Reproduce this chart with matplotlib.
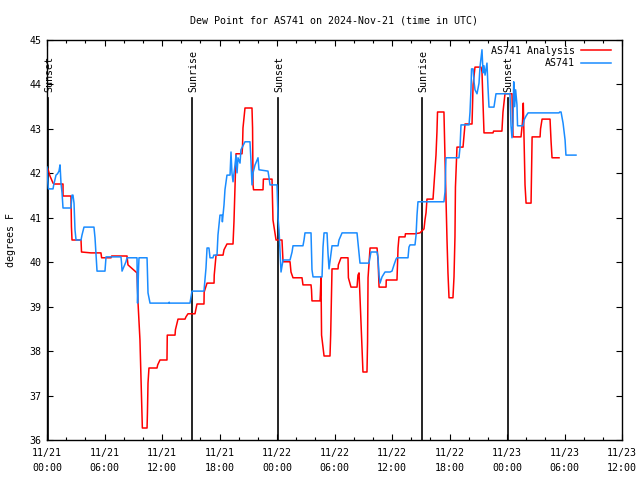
import matplotlib
matplotlib.use("Agg")
import matplotlib.pyplot as plt
from matplotlib.ticker import MultipleLocator

# hours since 2024-11-21 00:00 UTC
ana_t = [0.10, 0.31, 0.63, 0.73, 1.67, 1.67, 2.50, 2.55, 2.61, 3.55, 3.60, 4.59, 5.63, 5.70,
         6.68, 6.75, 8.35, 8.45, 9.39, 9.50, 9.70, 9.91, 9.95, 10.44, 10.48, 10.54, 10.64,
         11.48, 11.55, 11.79, 12.52, 12.55, 13.36, 13.40, 13.67, 14.40, 14.50, 14.71, 15.44,
         15.65, 16.38, 16.40, 16.70, 17.43, 17.45, 17.64, 18.37, 18.47, 18.78, 19.41, 19.51,
         19.72, 20.35, 20.40, 20.45, 20.66, 21.39, 21.45, 21.50, 21.55, 22.54, 22.58, 23.48,
         23.52, 23.58, 23.90, 24.52, 24.63, 25.36, 25.46, 25.67, 26.61, 26.71, 27.55, 27.60,
         27.65, 28.49, 28.52, 28.59, 28.65, 28.91, 29.53, 29.60, 29.74, 30.37, 30.40, 30.68,
         31.41, 31.45, 31.72, 32.35, 32.45, 32.56, 32.87, 32.97, 33.39, 33.45, 33.50, 33.71,
         34.44, 34.54, 34.65, 35.38, 35.40, 36.52, 36.63, 36.73, 37.36, 37.40, 38.40, 38.92,
         39.34, 39.44, 39.55, 39.65, 40.28, 40.38, 40.59, 40.69, 40.75, 41.42, 41.53, 41.74,
         41.84, 41.95, 42.36, 42.47, 42.57, 42.62, 42.78, 43.41, 43.50, 43.62, 44.35, 44.40,
         44.46, 44.66, 45.29, 45.39, 45.60, 46.54, 46.60, 47.47, 47.58, 47.79, 48.52, 48.63,
         49.46, 49.57, 49.62, 49.70, 49.88, 49.99, 50.51, 50.55, 50.62, 51.45, 51.50, 51.66,
         52.49, 52.60, 52.70, 53.43]
ana_v = [42.10, 41.94, 41.78, 41.76, 41.76, 41.49, 41.49, 40.80, 40.50, 40.50, 40.23, 40.21, 40.21, 40.10,
         40.10, 40.14, 40.14, 39.94, 39.76, 39.08, 38.25, 36.63, 36.27, 36.27, 36.61, 37.28, 37.62,
         37.62, 37.69, 37.80, 37.80, 38.36, 38.36, 38.48, 38.72, 38.72, 38.77, 38.84, 38.84,
         39.06, 39.06, 39.33, 39.53, 39.53, 39.71, 40.16, 40.16, 40.28, 40.41, 40.41, 40.91,
         42.44, 42.44, 42.59, 43.02, 43.47, 43.47, 43.02, 41.74, 41.63, 41.63, 41.87, 41.87,
         41.47, 40.95, 40.50, 40.50, 40.01, 40.01, 39.78, 39.65, 39.65, 39.49, 39.49, 39.38,
         39.13, 39.13, 39.26, 39.67, 38.36, 37.89, 37.89, 38.36, 39.85, 39.85, 39.94, 40.10,
         40.10, 39.65, 39.44, 39.44, 39.71, 39.76, 38.09, 37.53, 37.53, 38.21, 39.65, 40.32,
         40.32, 40.07, 39.44, 39.44, 39.60, 39.60, 40.32, 40.57, 40.57, 40.64, 40.64, 40.66,
         40.75, 40.95, 41.11, 41.42, 41.42, 41.74, 42.41, 42.93, 43.38, 43.38, 42.35, 40.50,
         39.76, 39.20, 39.20, 39.67, 40.57, 41.69, 42.59, 42.59, 42.82, 43.11, 43.11, 43.49,
         43.99, 44.39, 44.39, 44.28, 42.91, 42.91, 42.95, 42.95, 43.38, 43.79, 43.79, 42.82,
         42.82, 43.04, 43.16, 43.58, 41.74, 41.33, 41.33, 41.92, 42.82, 42.82, 43.00, 43.22,
         43.22, 42.71, 42.35, 42.35]

obs_t = [0.00, 0.10, 0.15, 0.63, 0.70, 0.94, 1.10, 1.25, 1.36, 1.46, 1.57, 1.67, 2.50, 2.61,
         2.71, 2.82, 2.92, 3.03, 3.55, 3.65, 3.86, 4.90, 5.01, 5.22, 6.05, 6.16, 7.72, 7.78,
         7.83, 8.24, 8.35, 9.39, 9.45, 9.55, 9.60, 10.44, 10.54, 10.75, 12.73, 12.75, 12.80,
         14.92, 15.13, 16.38, 16.45, 16.59, 16.70, 16.90, 17.01, 17.32, 17.40, 17.74, 17.84,
         18.05, 18.26, 18.30, 18.47, 18.57, 18.68, 18.78, 19.10, 19.20, 19.30, 19.41, 19.62,
         19.72, 19.83, 19.93, 20.14, 20.24, 20.66, 21.18, 21.29, 21.39, 21.50, 21.71, 22.02,
         22.12, 23.06, 23.17, 23.27, 24.00, 24.11, 24.21, 24.30, 24.42, 24.63, 25.36, 25.57,
         25.67, 26.71, 26.82, 26.92, 27.55, 27.65, 27.76, 28.70, 28.80, 28.91, 29.22, 29.32,
         29.43, 29.74, 30.37, 30.47, 30.79, 32.35, 32.56, 32.66, 33.60, 33.71, 33.81, 34.44,
         34.54, 34.65, 34.75, 34.96, 35.27, 35.80, 36.00, 36.21, 36.42, 36.52, 37.67, 37.77,
         37.88, 38.40, 38.51, 38.61, 38.71, 41.42, 41.53, 41.63, 42.99, 43.10, 43.20, 44.04,
         44.14, 44.24, 44.30, 44.46, 44.56, 44.66, 44.87, 45.08, 45.18, 45.39, 45.50, 45.60,
         45.71, 45.91, 46.02, 46.12, 46.64, 46.75, 46.85, 48.31, 48.42, 48.52, 48.63, 48.70,
         48.80, 48.90, 49.04, 49.10, 49.67, 49.78, 49.99, 50.20, 53.43, 53.50, 53.64, 53.85,
         54.06, 54.15, 55.20]
obs_v = [42.14, 41.78, 41.65, 41.65, 41.74, 41.96, 41.99, 42.05, 42.19, 41.78, 41.56, 41.22, 41.22, 41.51,
         41.51, 41.33, 40.73, 40.50, 40.50, 40.61, 40.79, 40.79, 40.55, 39.80, 39.80, 40.12, 40.12, 39.98,
         39.80, 40.01, 40.10, 40.10, 39.08, 39.83, 40.10, 40.10, 39.31, 39.08, 39.08, 39.10, 39.08,
         39.08, 39.35, 39.35, 39.53, 39.87, 40.32, 40.32, 40.10, 40.10, 40.16, 40.16, 40.61,
         41.06, 41.06, 40.91, 41.29, 41.63, 41.81, 41.96, 41.96, 42.48, 42.01, 41.81, 42.19,
         42.41, 42.01, 42.35, 42.23, 42.53, 42.71, 42.71, 42.26, 41.74, 42.01, 42.19, 42.35,
         42.08, 42.05, 41.90, 41.74, 41.74, 41.00, 40.73, 40.32, 39.78, 40.05, 40.05, 40.23,
         40.37, 40.37, 40.50, 40.66, 40.66, 39.83, 39.67, 39.67, 40.34, 40.66, 40.66, 40.21,
         39.85, 40.37, 40.37, 40.50, 40.66, 40.66, 40.21, 39.98, 39.98, 40.12, 40.23, 40.23,
         40.10, 39.71, 39.53, 39.67, 39.78, 39.78, 39.80, 39.94, 40.07, 40.10, 40.10, 40.34,
         40.39, 40.39, 40.61, 41.06, 41.36, 41.36, 41.58, 42.35, 42.35, 42.59, 43.09, 43.09,
         43.38, 43.88, 44.35, 44.35, 44.06, 43.88, 43.79, 44.03, 44.39, 44.78, 44.26, 44.42,
         44.21, 44.48, 43.92, 43.49, 43.49, 43.65, 43.79, 43.79, 43.07, 42.80, 43.16, 44.06,
         43.50, 43.88, 43.54, 43.07, 43.07, 43.20, 43.29, 43.36, 43.36, 43.38, 43.38, 43.13,
         42.75, 42.41, 42.41]

sun_t = [0.12, 15.13, 24.10, 39.13, 48.08]
sun_lbl = ["Sunset", "Sunrise", "Sunset", "Sunrise", "Sunset"]

tick_t = list(range(0, 61, 6))
tick_lbl = ["11/21\n00:00", "11/21\n06:00", "11/21\n12:00", "11/21\n18:00",
            "11/22\n00:00", "11/22\n06:00", "11/22\n12:00", "11/22\n18:00",
            "11/23\n00:00", "11/23\n06:00", "11/23\n12:00"]

plt.rcParams['font.family'] = ['DejaVu Sans Mono']
plt.rcParams['font.size'] = 7.2

fig = plt.figure(figsize=(6.4, 4.8), dpi=100)
ax = fig.add_axes([47 / 640, 40 / 480, 575 / 640, 400 / 480])

for t, lbl in zip(sun_t, sun_lbl):
    ax.plot([t, t], [36, 43.70], color='black', lw=1.2, zorder=1)
    ax.text(t + 0.1, 43.83, lbl, rotation=90, ha='center', va='bottom', fontsize=7.2)

ax.plot(ana_t, ana_v, color='#ff0000', lw=1.1, label='AS741 Analysis', zorder=2)
ax.plot(obs_t, obs_v, color='#1a8cff', lw=1.1, label='AS741', zorder=3)

ax.set_xlim(0, 60)
ax.set_ylim(36, 45)
ax.set_xticks(tick_t)
ax.set_xticklabels(tick_lbl, linespacing=1.6)
ax.xaxis.set_minor_locator(MultipleLocator(2))
ax.set_yticks(range(36, 46))
ax.tick_params(which='both', direction='in', top=True, right=True, width=0.8)
ax.tick_params(which='major', length=4.5, pad=6)
ax.tick_params(which='minor', length=2.5)
ax.tick_params(axis='y', pad=4)
for s in ax.spines.values():
    s.set_linewidth(1.0)

ax.set_title('Dew Point for AS741 on 2024-Nov-21 (time in UTC)', fontsize=7.2, pad=12)
ax.set_ylabel('degrees F', labelpad=10)

ax.legend(loc='upper right', bbox_to_anchor=(0.986, 0.993), frameon=False, markerfirst=False,
          handlelength=3.0, borderaxespad=0.0, borderpad=0.3, labelspacing=0.25,
          handletextpad=0.6)

fig.savefig('out.png', dpi=100)
